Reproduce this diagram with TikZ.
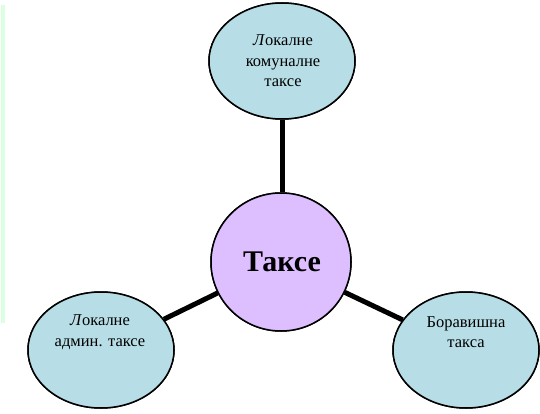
\documentclass[tikz,border=0pt]{standalone}
\usepackage{fontspec}
\setmainfont{Liberation Serif}
\usetikzlibrary{shapes.geometric}
\definecolor{leafblue}{RGB}{183,222,230}
\definecolor{hubpurple}{RGB}{221,190,255}
\definecolor{edgegreen}{RGB}{220,255,225}
\begin{document}
\begin{tikzpicture}[x=1pt,y=-1pt,
  leaf/.style={ellipse,draw=black,line width=1.5pt,fill=leafblue,minimum width=146pt,minimum height=116pt,inner sep=0pt},
  hub/.style={ellipse,draw=black,line width=1.5pt,fill=hubpurple,minimum width=140pt,minimum height=138pt,inner sep=0pt},
  leaftext/.style={font=\fontsize{16.5}{20.5}\selectfont,align=center},
  spoke/.style={line width=5pt,black}]
\useasboundingbox (0,0) rectangle (540,414);
\fill[edgegreen] (1,5) rectangle (5,323);
\node[leaf] (top) at (282,61) {};
\node[leaf] (bl) at (101,350) {};
\node[leaf] (br) at (466,350) {};
\node[hub] (hub) at (281,262) {};
\draw[spoke] (top.south) -- (top.south |- hub.north);
\draw[spoke] (bl) -- (hub);
\draw[spoke] (br) -- (hub);
\node[leaf] at (top) {};
\node[leaf] at (bl) {};
\node[leaf] at (br) {};
\node[hub] at (hub) {};
\node[leaftext] (toptext) at (283,61) {\textit{Л}окалне\\комуналне\\таксе};
\node[leaftext] (bltext) at (100,332) {\textit{Л}окалне\\админ. таксе};
\node[leaftext] (brtext) at (466,332) {Боравишна\\такса};
\node[font=\fontsize{30}{34}\selectfont\bfseries] (hubtext) at (282,262) {Таксе};
\end{tikzpicture}
\end{document}
